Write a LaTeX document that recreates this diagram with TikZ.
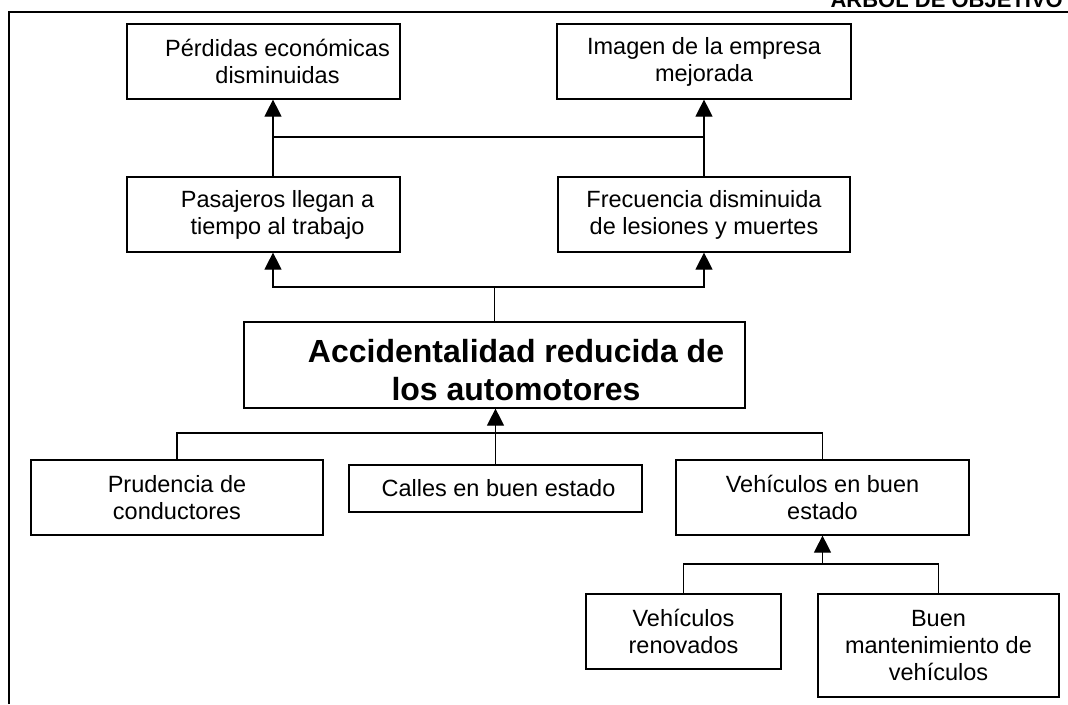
\documentclass[tikz,border=0pt]{standalone}
\usepackage{fontspec}
\setmainfont{Liberation Sans}
\usetikzlibrary{arrows.meta}
\tikzset{
  box/.style={draw, line width=1.2pt, inner sep=0pt, align=center,
    font=\fontsize{23.5}{27}\selectfont},
  bigbox/.style={draw, line width=1.2pt, inner sep=0pt},
  bigtext/.style={inner sep=0pt, align=center,
    font=\fontsize{32}{38}\selectfont\bfseries},
  conn/.style={line width=1.2pt},
  arr/.style={line width=1.2pt, -{Triangle[length=17pt,width=17pt]}},
}
\begin{document}
\begin{tikzpicture}[x=1pt,y=-1pt]
\useasboundingbox (0,0) rectangle (1068,704);
\clip (0,0) rectangle (1068,704);
% frame and (cut) title
\coordinate (fbl) at (9,704);
\coordinate (ftl) at (9,12);
\coordinate (ftr) at (1068,12);
\draw[line width=1.3pt] (fbl) -- (ftl) -- (ftr);
\node[anchor=base east, inner sep=0pt, font=\fontsize{22}{24}\selectfont\bfseries] (title) at (1063,7) {ARBOL DE OBJETIVO};
% nodes
\node[box, minimum width=273, minimum height=75] (p1) at (263.5,61.5) {\hspace*{28pt}Pérdidas económicas\\\hspace*{28pt}disminuidas};
\node[box, minimum width=294, minimum height=75] (p2) at (704,61.5) {Imagen de la empresa\\mejorada};
\node[box, minimum width=273, minimum height=75] (m1) at (263.5,214.5) {\hspace*{28pt}Pasajeros llegan a\\\hspace*{28pt}tiempo al trabajo};
\node[box, minimum width=292, minimum height=75] (m2) at (704,214.5) {Frecuencia disminuida\\de lesiones y muertes};
\node[bigbox, minimum width=501, minimum height=86] (acc) at (494.5,365) {};
\node[bigtext] (acct) at (516,370) {Accidentalidad reducida de\\los automotores};
\node[box, minimum width=292, minimum height=75] (pru) at (177,497.5) {Prudencia de\\conductores};
\node[box, minimum width=293, minimum height=47] (cal) at (495.5,488.5) {\hspace*{6pt}Calles en buen estado};
\node[box, minimum width=293, minimum height=75] (veh) at (822.5,497.5) {Vehículos en buen\\estado};
\node[box, minimum width=195, minimum height=75] (ren) at (683.5,631.5) {Vehículos\\renovados};
\node[box, minimum width=241, minimum height=103] (bue) at (938.5,645.5) {Buen\\mantenimiento de\\vehículos};
% helper coordinates
\coordinate (cL) at (273,0);
\coordinate (jt) at (0,137);
\coordinate (j2) at (0,287);
\coordinate (j3) at (0,433);
\coordinate (j4) at (0,564);
% upper connectors
\draw[arr] (m1.north -| cL) -- (p1.south -| cL);
\draw[arr] (m2.north) -- (p2.south);
\draw[conn] (cL |- jt) -- (m2.north |- jt);
\draw[conn] (acc.north) -- (acc.north |- j2);
\draw[arr] (acc.north |- j2) -| (m1.south -| cL);
\draw[arr] (acc.north |- j2) -| (m2.south);
% lower connectors
\draw[arr] (cal.north) -- (cal.north |- acc.south);
\draw[conn] (pru.north) |- (veh.north |- j3) -- (veh.north);
\draw[arr] (veh.south |- j4) -- (veh.south);
\draw[conn] (ren.north) |- (bue.north |- j4) -- (bue.north);
\end{tikzpicture}
\end{document}
